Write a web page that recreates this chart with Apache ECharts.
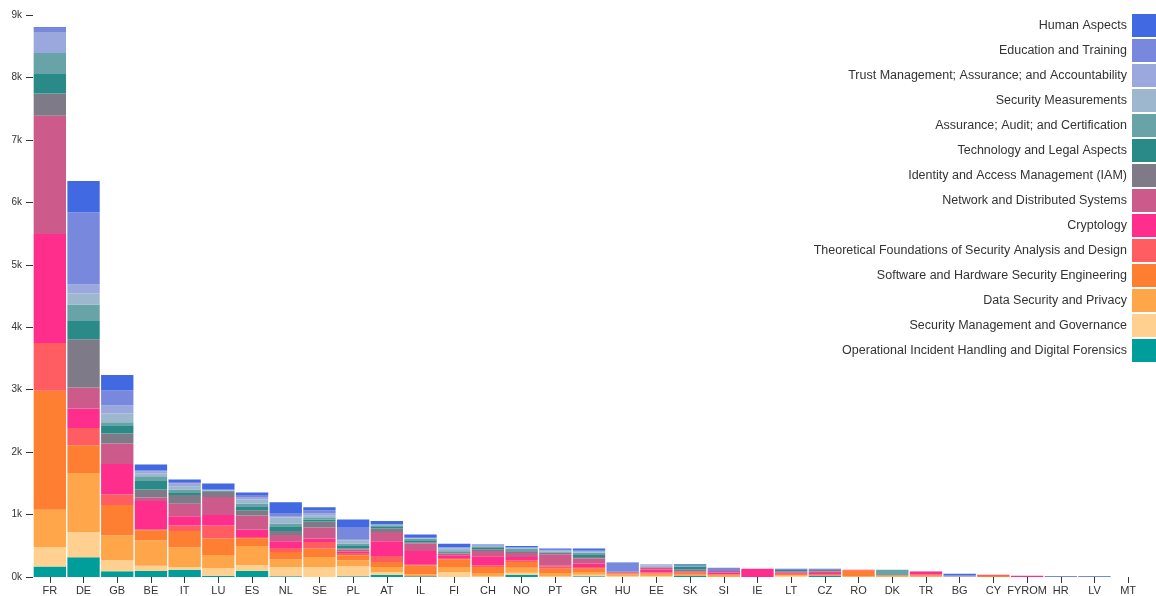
<!DOCTYPE html>
<html>
<head>
<meta charset="utf-8">
<script src="https://cdn.jsdelivr.net/npm/echarts@6/dist/echarts.min.js"></script>
<style>
html,body{margin:0;padding:0;background:#fff;}
#chart{width:1156px;height:596px;}
</style>
</head>
<body>
<div id="chart"></div>
<script>
const countries = ["FR","DE","GB","BE","IT","LU","ES","NL","SE","PL","AT","IL","FI","CH","NO","PT","GR","HU","EE","SK","SI","IE","LT","CZ","RO","DK","TR","BG","CY","FYROM","HR","LV","MT"];

// series listed bottom → top of the stack
const operational   = [170,315,91,95,118,22,96,11,0,11,38,11,0,0,38,0,11, 0,0,18,0,0,0,15,0,0,0,0,0,0,0,0,0];
const secManagement = [305,406,176,87,42,117,96,149,160,160,37,0,80,10,32,10,27, 15,18,0,0,0,12,0,0,0,0,0,0,0,0,0,0];
const dataSecurity  = [603,945,396,406,311,213,304,119,160,96,85,32,80,54,80,54,42, 25,20,20,20,0,15,0,10,13,10,9,0,0,0,0,0];
const software      = [1906,443,490,160,266,263,124,121,135,81,80,144,119,96,90,70,54, 20,20,25,15,0,25,15,100,15,18,0,16,0,0,0,0];
const theoretical   = [763,278,167,15,86,208,20,64,106,36,96,10,25,27,27,37,26, 0,20,0,15,0,0,15,0,0,15,0,22,0,0,0,0];
const cryptology    = [1745,310,490,454,149,170,117,108,54,22,236,219,44,145,53,10,54, 10,37,10,20,134,15,20,8,0,40,0,0,22,0,0,0];
const network       = [1896,336,326,55,203,288,226,101,176,33,149,119,27,84,64,182,81, 10,43,20,25,0,25,25,0,0,8,0,0,0,0,0,0];
const iam           = [353,774,161,128,138,91,85,64,96,16,54,21,15,28,27,21,25, 0,0,30,0,0,0,30,0,0,0,0,0,0,0,0,0];
const techLegal     = [314,293,122,138,44,10,53,64,32,41,37,32,15,20,16,10,43, 5,0,40,0,0,30,0,0,0,0,0,0,0,0,0,0];
const assurance     = [336,262,58,75,43,0,54,54,26,39,16,21,25,17,28,15,27, 0,0,30,0,0,0,0,0,90,0,0,0,0,0,0,0];
const secMeasures   = [0,177,140,43,53,10,65,96,43,53,4,10,23,15,8,7,10, 0,25,0,0,0,0,0,0,0,0,0,0,0,0,0,0];
const trust         = [336,144,128,37,43,0,41,26,27,10,5,5,15,8,5,10,10, 0,20,0,0,0,0,0,0,0,0,0,0,0,0,0,0];
const education     = [70,1158,240,16,26,8,32,48,53,203,10,15,12,5,8,10,15, 140,0,0,55,0,0,0,0,0,0,20,0,0,16,16,0];
const human         = [10,501,250,91,38,96,39,171,48,118,50,40,53,10,20,19,30, 6,0,10,0,0,12,14,0,0,0,25,0,0,0,0,0];

const yTicks = ["0k","1k","2k","3k","4k","5k","6k","7k","8k","9k"];

const seriesDefs = [
  ["Operational Incident Handling and Digital Forensics", operational, "#009E9A"],
  ["Security Management and Governance", secManagement, "#FFD08F"],
  ["Data Security and Privacy", dataSecurity, "#FFA54A"],
  ["Software and Hardware Security Engineering", software, "#FF7F32"],
  ["Theoretical Foundations of Security Analysis and Design", theoretical, "#FF5D62"],
  ["Cryptology", cryptology, "#FF2D8B"],
  ["Network and Distributed Systems", network, "#CC5B8B"],
  ["Identity and Access Management (IAM)", iam, "#7E7A88"],
  ["Technology and Legal Aspects", techLegal, "#2A8A88"],
  ["Assurance; Audit; and Certification", assurance, "#68A3A8"],
  ["Security Measurements", secMeasures, "#9DB8CE"],
  ["Trust Management; Assurance; and Accountability", trust, "#9AA8DE"],
  ["Education and Training", education, "#7888DD"],
  ["Human Aspects", human, "#4169E1"]
];

const chart = echarts.init(document.getElementById('chart'), null, {renderer:'canvas'});
chart.setOption({
  animation: false,
  backgroundColor: '#fff',
  textStyle: {fontFamily: 'Liberation Sans, Arial, sans-serif'},
  legend: {
    orient: 'vertical',
    right: -5,
    top: 9,
    align: 'right',
    itemWidth: 24,
    itemHeight: 23,
    itemGap: 2,
    icon: 'rect',
    itemStyle: {borderWidth: 0},
    textStyle: {fontSize: 12.5, color: '#333', fontFamily: 'Liberation Sans, Arial, sans-serif'},
    data: seriesDefs.map(d => d[0]).slice().reverse()
  },
  grid: {left: 33, right: 11, top: 15, bottom: 19, containLabel: false},
  xAxis: {
    type: 'category',
    data: countries,
    boundaryGap: true,
    axisLine: {show: false},
    axisTick: {show: true, alignWithLabel: true, interval: 0, length: 6, lineStyle: {color: '#333'}},
    axisLabel: {interval: 0, fontSize: 11, color: '#333', margin: 8}
  },
  yAxis: {
    type: 'value',
    min: 0, max: 9000, interval: 1000,
    splitLine: {show: false},
    axisLine: {show: false},
    axisTick: {show: true, length: 7, lineStyle: {color: '#333'}},
    axisLabel: {fontSize: 10, color: '#333', margin: 11,
      formatter: v => yTicks[Math.round(v / 1000)]}
  },
  series: seriesDefs.map(d => ({
    name: d[0],
    type: 'bar',
    stack: 'total',
    data: d[1],
    barCategoryGap: '4%',
    itemStyle: {color: d[2], borderWidth: 0},
    emphasis: {disabled: true}
  }))
});
</script>
</body>
</html>
